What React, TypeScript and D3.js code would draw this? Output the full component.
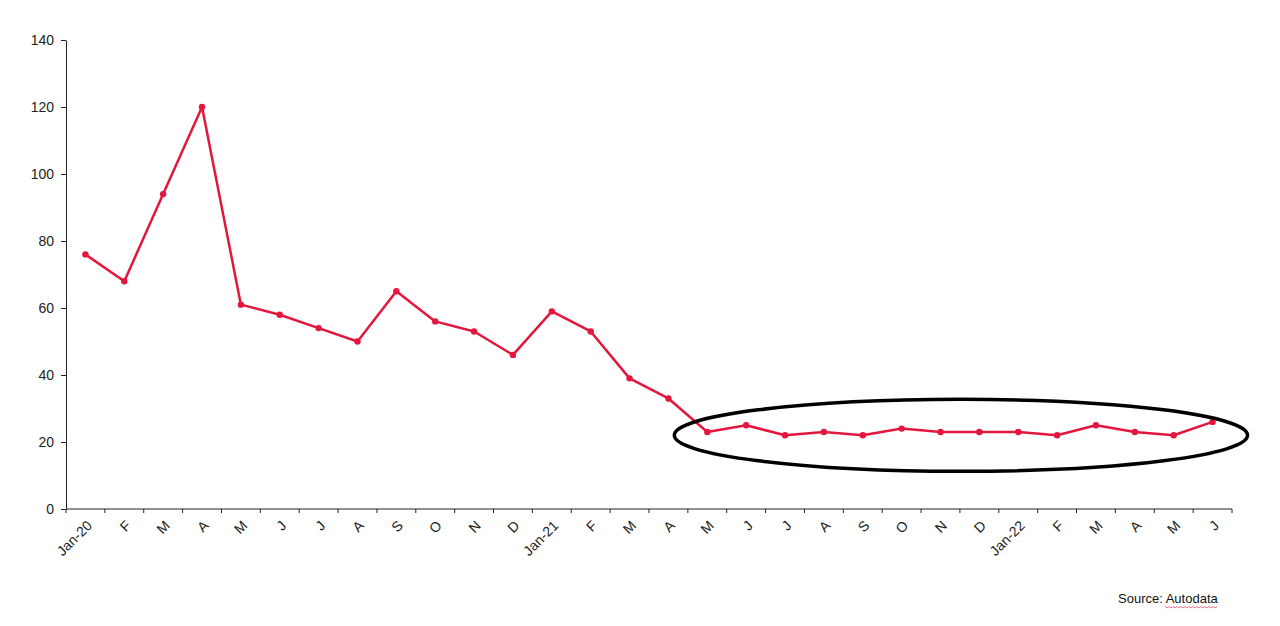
import React, { useEffect, useRef } from 'react';
import * as d3 from 'd3';

// monthly values, Jan-20 .. Jun-22
const months = [
  'Jan-20', 'F', 'M', 'A', 'M', 'J', 'J', 'A', 'S', 'O', 'N', 'D',
  'Jan-21', 'F', 'M', 'A', 'M', 'J', 'J', 'A', 'S', 'O', 'N', 'D',
  'Jan-22', 'F', 'M', 'A', 'M', 'J',
];
const values = [
  76, 68, 94, 120, 61, 58, 54, 50, 65, 56, 53, 46,
  59, 53, 39, 33, 23, 25, 22, 23, 22, 24, 23, 23,
  23, 22, 25, 23, 22, 26,
];
const yTicks = [0, 20, 40, 60, 80, 100, 120, 140];
// months circled in the highlight (May-21 .. Jun-22)
const highlightFrom = 16;
const highlightTo = 29;

export default function App() {
  const ref = useRef<SVGSVGElement>(null);

  useEffect(() => {
    const svg = d3.select(ref.current);
    svg.selectAll('*').remove();

    const left = 66, right = 1232, top = 40, bottom = 509;
    const keys = months.map((m, i) => i);

    const x = d3.scaleBand<number>().domain(keys).range([left, right]);
    const y = d3.scaleLinear().domain([0, 140]).range([bottom, top]);
    const cx = (i: number) => (x(i) as number) + x.bandwidth() / 2;

    const font = 'Liberation Sans, Arial, sans-serif';

    // y axis
    const yAxis = svg.append('g').attr('transform', `translate(${left},0)`)
      .call(d3.axisLeft(y).tickValues(yTicks).tickSize(5).tickPadding(7).tickSizeOuter(0));
    yAxis.select('.domain').attr('stroke', '#222');
    yAxis.selectAll('line').attr('stroke', '#222');
    yAxis.selectAll('text').attr('font-family', font).attr('font-size', 14).attr('fill', '#222');

    // x axis: ticks on band edges
    const xg = svg.append('g');
    xg.append('line').attr('x1', left).attr('x2', right).attr('y1', bottom).attr('y2', bottom)
      .attr('stroke', '#222');
    const edges = keys.map(i => x(i) as number).concat([right]);
    xg.selectAll('line.tick').data(edges).enter().append('line')
      .attr('class', 'tick')
      .attr('x1', d => d).attr('x2', d => d)
      .attr('y1', bottom).attr('y2', bottom + 4)
      .attr('stroke', '#222');
    xg.selectAll('text').data(keys).enter().append('text')
      .attr('transform', i => `translate(${cx(i) + 4},${bottom + 14}) rotate(-45)`)
      .attr('text-anchor', 'end')
      .attr('dy', '0.35em')
      .attr('font-family', font).attr('font-size', 14).attr('fill', '#222')
      .text(i => months[i]);

    // line + markers
    const line = d3.line<number>().x((d, i) => cx(i)).y(d => y(d));
    svg.append('path').datum(values)
      .attr('d', line)
      .attr('fill', 'none')
      .attr('stroke', '#e3173e')
      .attr('stroke-width', 2.5)
      .attr('stroke-linejoin', 'round');
    svg.selectAll('circle.pt').data(values).enter().append('circle')
      .attr('class', 'pt')
      .attr('cx', (d, i) => cx(i)).attr('cy', d => y(d))
      .attr('r', 3.2).attr('fill', '#e3173e');

    // highlight ellipse around the flat stretch
    const hx0 = cx(highlightFrom) - 33, hx1 = cx(highlightTo) + 35;
    const hv = values.slice(highlightFrom, highlightTo + 1);
    const hy = y((d3.max(hv)! + d3.min(hv)!) / 2 - 2);
    svg.append('ellipse')
      .attr('cx', (hx0 + hx1) / 2).attr('cy', hy)
      .attr('rx', (hx1 - hx0) / 2).attr('ry', 36)
      .attr('fill', 'none').attr('stroke', '#000').attr('stroke-width', 3.5);

    // source
    svg.append('text')
      .attr('x', 1118).attr('y', 603)
      .attr('font-family', font).attr('font-size', 13).attr('fill', '#111')
      .text('Source: Autodata');
    const sq = d3.range(1165, 1218, 2).map((px, k) => [px, 607 + (k % 2 ? 1 : -0.5)] as [number, number]);
    svg.append('path').attr('d', d3.line()(sq)).attr('fill', 'none')
      .attr('stroke', '#e05070').attr('stroke-width', 0.8);
  }, []);

  return (
    <svg ref={ref} width={1280} height={626}
      style={{ position: 'absolute', left: 0, top: 0, background: '#fff' }} />
  );
}
